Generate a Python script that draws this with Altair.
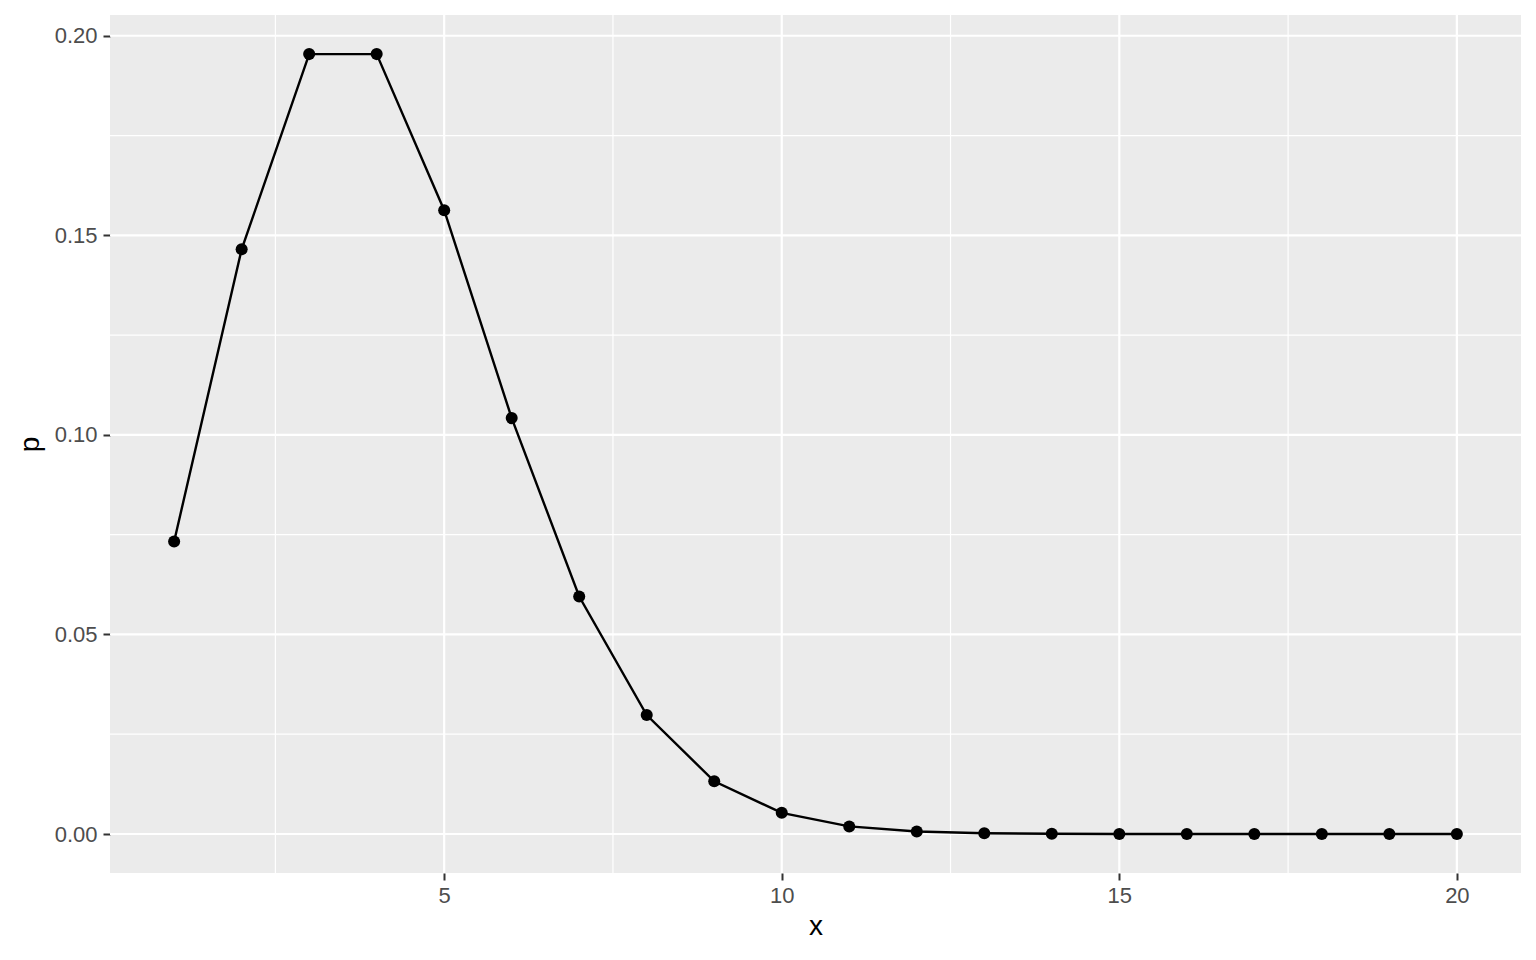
import altair as alt
import pandas as pd

x_vals = list(range(1, 21))
p_vals = [0.0733, 0.1465, 0.1954, 0.1954, 0.1563, 0.1042, 0.0595, 0.0298, 0.0132, 0.0053,
          0.0019, 0.00064, 0.0002, 0.00006, 0.00002, 0.0, 0.0, 0.0, 0.0, 0.0]

x_major = [5, 10, 15, 20]
x_minor = [2.5, 7.5, 12.5, 17.5]
y_major = [0.0, 0.05, 0.10, 0.15, 0.20]
y_minor = [0.025, 0.075, 0.125, 0.175]

df = pd.DataFrame({"x": x_vals, "p": p_vals})

xs = alt.Scale(domain=[0.05, 20.95], nice=False, zero=False)
ys = alt.Scale(domain=[-0.00977, 0.2052], nice=False, zero=False)

font = "Liberation Sans"

xaxis = alt.Axis(values=x_major, titlePadding=6, labelPadding=5)
yaxis = alt.Axis(values=y_major, format=".2f", titlePadding=10, labelPadding=6)

def vrules(vals, w):
    return alt.Chart(pd.DataFrame({"v": vals})).mark_rule(color="white", strokeWidth=w).encode(
        x=alt.X("v:Q", scale=xs, axis=xaxis, title="x"))

def hrules(vals, w):
    return alt.Chart(pd.DataFrame({"v": vals})).mark_rule(color="white", strokeWidth=w).encode(
        y=alt.Y("v:Q", scale=ys, axis=yaxis, title="p"))

base = alt.Chart(df).encode(
    x=alt.X("x:Q", scale=xs, axis=xaxis, title="x"),
    y=alt.Y("p:Q", scale=ys, axis=yaxis, title="p"),
)

line = base.mark_line(color="black", strokeWidth=2.4)
pts = base.mark_circle(color="black", size=145, opacity=1)

chart = alt.layer(
    vrules(x_minor, 1.2), hrules(y_minor, 1.2), vrules(x_major, 2.2), hrules(y_major, 2.2), line, pts
).properties(
    width=1411, height=858,
    autosize=alt.AutoSizeParams(type="none"),
    padding={"left": 102, "top": 7, "right": 7, "bottom": 80},
).configure_view(fill="#EBEBEB", stroke=None).configure_axis(
    grid=False, domain=False, tickColor="#333333", tickWidth=2, tickSize=7,
    labelFontSize=22, labelColor="#4D4D4D", labelFont=font,
    titleFont=font, titleFontSize=28, titleFontWeight="normal", titleColor="black",
    labelFlush=False,
)

chart.save("out.html", embed_options={"renderer": "svg", "actions": False})
